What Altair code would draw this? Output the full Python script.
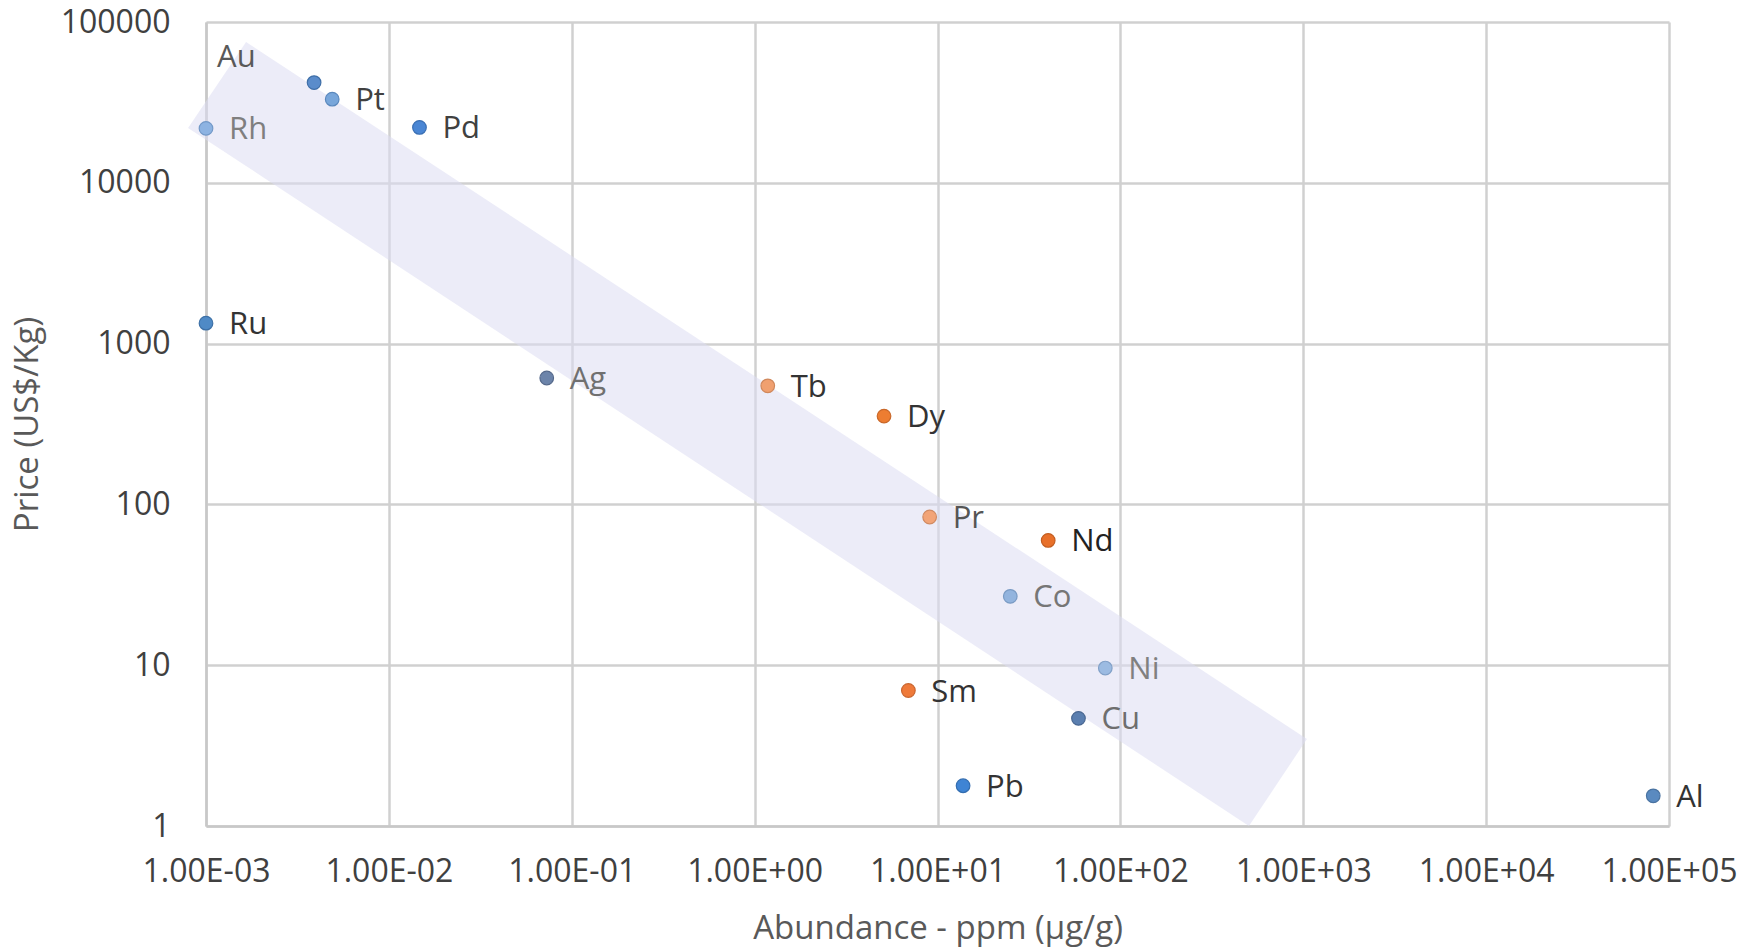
import altair as alt
import pandas as pd

# ---- data ----
elements = ["Au", "Pt", "Rh", "Pd", "Ru", "Ag", "Tb", "Dy", "Pr", "Nd", "Co", "Ni", "Sm", "Cu", "Pb", "Al"]
abundance = [0.0039, 0.0049, 0.001, 0.0147, 0.001, 0.073, 1.18, 5.1, 9.06, 40.3, 25.0, 82.7, 6.93, 59.0, 13.8, 82000]
price = [42000, 33100, 21800, 22100, 1340, 611, 546, 354, 83.5, 59.7, 26.8, 9.6, 6.96, 4.67, 1.78, 1.54]
point_fill = ["#5a8ccb", "#78a6da", "#8db3e2", "#4a86d4", "#4f8ac6", "#6c84aa", "#f0a070", "#ed7d31",
              "#f2a477", "#e8702a", "#93b4de", "#9cbbe2", "#ef7a3a", "#5b7fb0", "#3f84d4", "#5a8ac0"]
point_stroke = ["#3f6fa8", "#5a88bd", "#7399c8", "#3a6fb3", "#3d70a6", "#55698b", "#d0885c", "#c9682a",
                "#d08a62", "#c25e22", "#7a9bc4", "#82a1c8", "#c9652f", "#4a6892", "#336db0", "#4a73a1"]
label_color = ["#595959", "#404040", "#7f7f7f", "#404040", "#333333", "#707070", "#333333", "#333333",
               "#555555", "#222222", "#767676", "#808080", "#333333", "#6e6e6e", "#333333", "#333333"]

x_ticks = [0.001, 0.01, 0.1, 1, 10, 100, 1000, 10000, 100000]
x_tick_labels = ["1.00E-03", "1.00E-02", "1.00E-01", "1.00E+00", "1.00E+01",
                 "1.00E+02", "1.00E+03", "1.00E+04", "1.00E+05"]
y_ticks = [1, 10, 100, 1000, 10000, 100000]

# shaded trend band (corners, in data units)
band_x = [10 ** -3.098, 10 ** -2.781, 10 ** 2.703, 10 ** 3.02]
band_upper = [10 ** 4.341, 10 ** 4.876, 10 ** 0.778, 10 ** 0.541]
band_lower = [10 ** 4.341, 10 ** 4.104, 1.0, 10 ** 0.541]

FONT = "Open Sans"

df = pd.DataFrame({
    "element": elements, "abundance": abundance, "price": price,
    "fill": point_fill, "stroke": point_stroke, "lc": label_color,
})
band = pd.DataFrame({"x": band_x, "up": band_upper, "lo": band_lower})

labels_js = "[" + ",".join("'%s'" % s for s in x_tick_labels) + "]"

xscale = alt.Scale(type="log", domain=[0.001, 100000], nice=False)
yscale = alt.Scale(type="log", domain=[1, 100000], nice=False)

xaxis = alt.Axis(values=x_ticks, title="Abundance - ppm (µg/g)",
                 labelExpr=labels_js + "[round(log(datum.value)/LN10)+3]",
                 labelOverlap=False, labelFlush=False, labelBound=False,
                 labelFont=FONT, labelFontSize=32, labelColor="#404040", labelPadding=30,
                 titleFont=FONT, titleFontSize=33, titleFontWeight="normal", titleColor="#595959",
                 titlePadding=25, grid=True, gridColor="#d0d0d0", gridWidth=2.5,
                 domainColor="#c8c8c8", domainWidth=2.5, ticks=False)
yaxis = alt.Axis(values=y_ticks, format="d", title="Price (US$/Kg)",
                 labelOverlap=False, labelFlush=False, labelBound=False,
                 labelFont=FONT, labelFontSize=32, labelColor="#404040", labelPadding=36,
                 titleFont=FONT, titleFontSize=33, titleFontWeight="normal", titleColor="#595959",
                 titlePadding=16, grid=True, gridColor="#d0d0d0", gridWidth=2.5,
                 domainColor="#c8c8c8", domainWidth=2.5, ticks=False)

band_layer = alt.Chart(band).mark_area(color="#dcdcf2", opacity=0.55, clip=False).encode(
    x=alt.X("x:Q", scale=xscale, axis=xaxis),
    y=alt.Y("up:Q", scale=yscale, axis=yaxis),
    y2="lo:Q",
)

points = alt.Chart(df).mark_point(filled=True, size=185, strokeWidth=1.2, opacity=1).encode(
    x=alt.X("abundance:Q", scale=xscale),
    y=alt.Y("price:Q", scale=yscale),
    fill=alt.Fill("fill:N", scale=None),
    stroke=alt.Stroke("stroke:N", scale=None),
)

labels = alt.Chart(df).transform_filter(alt.datum.element != "Au").mark_text(
    align="left", baseline="middle", dx=23, dy=2, font=FONT, fontSize=31
).encode(
    x=alt.X("abundance:Q", scale=xscale),
    y=alt.Y("price:Q", scale=yscale),
    text="element:N",
    color=alt.Color("lc:N", scale=None),
)

au_label = alt.Chart(df).transform_filter(alt.datum.element == "Au").mark_text(
    align="left", baseline="middle", dx=-97, dy=-25, font=FONT, fontSize=31
).encode(
    x=alt.X("abundance:Q", scale=xscale),
    y=alt.Y("price:Q", scale=yscale),
    text="element:N",
    color=alt.Color("lc:N", scale=None),
)

chart = alt.layer(band_layer, points, labels, au_label).properties(
    width=1463, height=804,
    autosize=alt.AutoSizeParams(type="none"),
    padding={"left": 206, "top": 22, "right": 85, "bottom": 124},
    background="white",
).configure_view(stroke=None)

chart.save("out.html", embed_options={"renderer": "svg", "actions": False})
